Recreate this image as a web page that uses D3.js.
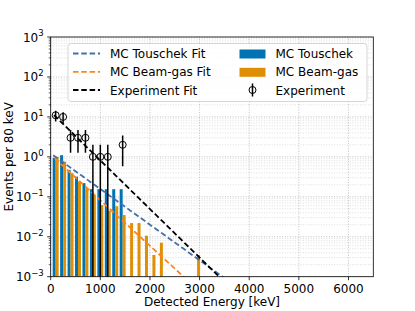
<!DOCTYPE html>
<html>
<head>
<meta charset="utf-8">
<script src="https://cdn.jsdelivr.net/npm/d3@7"></script>
<style>
  body { margin: 0; background: #fff; }
  text { font-family: "DejaVu Sans", sans-serif; fill: #000; }
</style>
</head>
<body>
<script>
// chart size
const width = 415, height = 311;
const margin = {left: 50.7, right: 41.7, top: 37, bottom: 34.3};

// histogram bins (keV, bin centres) and MC rates per bin
const binCenters = [100, 250, 400, 550, 700, 850, 1000, 1150, 1300, 1450,
                    1600, 1750, 1900, 2050, 2200, 2350, 2500, 2650, 2800, 2950];
const touschek = [0.95, 1.1, 0.47, 0.32, 0.22, 0.155, 0.155, 0.155, 0.155, 0.155,
                  0, 0, 0, 0, 0, 0, 0, 0, 0, 0];
const beamgas = [1.0, 0.76, 0.39, 0.24, 0.16, 0.11, 0.062, 0.045, 0.058, 0.035,
                 0.022, 0.022, 0.0106, 0.0035, 0.0071, 0, 0, 0, 0, 0.0035];

// measured events
const expEnergy = [100, 250, 400, 550, 700, 850, 1000, 1150, 1450];
const expCounts = [11, 10, 3, 3, 3, 1, 1, 1, 2];

// exponential fits: A * exp(-E / lambda), drawn from eStart on
const fitNames = ["MC Touschek Fit", "MC Beam-gas Fit", "Experiment Fit"];
const fitAmp = [1.22, 1.13, 13.4];
const fitLambda = [487, 381, 357];
const fitStart = [50, 80, 66];

const xTicks = [0, 1000, 2000, 3000, 4000, 5000, 6000];
const yExponents = [-3, -2, -1, 0, 1, 2, 3];

const blue = "#0173b2", orange = "#de8f05";
const fitColors = ["#4670a6", "#ff8419", "#000"];
const fs = 12;

const svg = d3.select("body").append("svg")
  .attr("width", width).attr("height", height);

const x = d3.scaleLinear().domain([0, 6500])
  .range([margin.left, width - margin.right]);
const y = d3.scaleLog().domain([1e-3, 1e3])
  .range([height - margin.bottom, margin.top]);

const x0 = x.range()[0], x1 = x.range()[1];
const y0 = y.range()[0], y1 = y.range()[1];

svg.append("clipPath").attr("id", "plot")
  .append("rect").attr("x", x0).attr("y", y1)
  .attr("width", x1 - x0).attr("height", y0 - y1);

// grid
const minorVals = [];
yExponents.slice(0, -1).forEach(e => {
  for (let m = 2; m < 10; m++) minorVals.push(m * Math.pow(10, e));
});
const grid = svg.append("g");
grid.selectAll(".ymin").data(minorVals).enter().append("line")
  .attr("x1", x0).attr("x2", x1)
  .attr("y1", d => y(d)).attr("y2", d => y(d))
  .attr("stroke", "#d4d4d4").attr("stroke-width", 0.8)
  .attr("stroke-dasharray", "1,1.6");
grid.selectAll(".ymaj").data(yExponents.map(e => Math.pow(10, e))).enter().append("line")
  .attr("x1", x0).attr("x2", x1)
  .attr("y1", d => y(d)).attr("y2", d => y(d))
  .attr("stroke", "#b0b0b0").attr("stroke-width", 0.8)
  .attr("stroke-dasharray", "1,1.6");
grid.selectAll(".xmaj").data(xTicks).enter().append("line")
  .attr("x1", d => x(d)).attr("x2", d => x(d))
  .attr("y1", y0).attr("y2", y1)
  .attr("stroke", "#b0b0b0").attr("stroke-width", 0.8)
  .attr("stroke-dasharray", "1,1.6");

// bars
const plot = svg.append("g").attr("clip-path", "url(#plot)");
const halfBin = 60;
plot.selectAll(".tb").data(binCenters.map((c, i) => [c, touschek[i]]).filter(d => d[1] > 0))
  .enter().append("rect")
  .attr("x", d => x(d[0] - halfBin)).attr("width", d => x(d[0]) - x(d[0] - halfBin))
  .attr("y", d => y(d[1])).attr("height", d => y0 - y(d[1]))
  .attr("fill", blue);
plot.selectAll(".bb").data(binCenters.map((c, i) => [c, beamgas[i]]).filter(d => d[1] > 0))
  .enter().append("rect")
  .attr("x", d => x(d[0])).attr("width", d => x(d[0] + halfBin) - x(d[0]))
  .attr("y", d => y(d[1])).attr("height", d => y0 - y(d[1]))
  .attr("fill", orange);

// fit lines
const line = d3.line().x(d => x(d[0])).y(d => y(d[1]));
fitAmp.forEach((a, i) => {
  const pts = d3.range(fitStart[i], 6500, 50).map(e => [e, a * Math.exp(-e / fitLambda[i])]);
  plot.append("path").datum(pts)
    .attr("d", line).attr("fill", "none")
    .attr("stroke", fitColors[i]).attr("stroke-width", 1.8)
    .attr("stroke-dasharray", "5.5,2.8");
});

// experiment with sqrt(N) errors
const pts = plot.selectAll(".exp").data(expEnergy.map((e, i) => [e, expCounts[i]]))
  .enter().append("g");
pts.append("line")
  .attr("x1", d => x(d[0])).attr("x2", d => x(d[0]))
  .attr("y1", d => y(d[1] + Math.sqrt(d[1])))
  .attr("y2", d => { const lo = d[1] - Math.sqrt(d[1]); return lo > 1e-3 ? y(lo) : y0 + 5; })
  .attr("stroke", "#000").attr("stroke-width", 1.5);
pts.append("circle")
  .attr("cx", d => x(d[0])).attr("cy", d => y(d[1])).attr("r", 3.5)
  .attr("fill", "none").attr("stroke", "#000").attr("stroke-width", 1);

// spines
svg.append("rect").attr("x", x0).attr("y", y1)
  .attr("width", x1 - x0).attr("height", y0 - y1)
  .attr("fill", "none").attr("stroke", "#000").attr("stroke-width", 0.8);

// x axis
const xa = svg.append("g");
xa.selectAll("line").data(xTicks).enter().append("line")
  .attr("x1", d => x(d)).attr("x2", d => x(d))
  .attr("y1", y0).attr("y2", y0 + 3.5)
  .attr("stroke", "#000").attr("stroke-width", 0.8);
xa.selectAll("text").data(xTicks).enter().append("text")
  .attr("x", d => x(d)).attr("y", y0 + 16.5)
  .attr("text-anchor", "middle").attr("font-size", fs)
  .text(d => d);

// y axis
const ya = svg.append("g");
ya.selectAll(".mt").data(minorVals).enter().append("line")
  .attr("x1", x0 - 2).attr("x2", x0)
  .attr("y1", d => y(d)).attr("y2", d => y(d))
  .attr("stroke", "#000").attr("stroke-width", 0.6);
ya.selectAll(".Mt").data(yExponents).enter().append("line")
  .attr("x1", x0 - 3.5).attr("x2", x0)
  .attr("y1", d => y(Math.pow(10, d))).attr("y2", d => y(Math.pow(10, d)))
  .attr("stroke", "#000").attr("stroke-width", 0.8);
const yl = ya.selectAll(".yl").data(yExponents).enter().append("text")
  .attr("x", x0 - 7).attr("y", d => y(Math.pow(10, d)) + 4.5)
  .attr("text-anchor", "end").attr("font-size", fs);
yl.append("tspan").text("10");
yl.append("tspan").attr("dy", -5.5).attr("font-size", 8.5)
  .text(d => d < 0 ? "\u2212" + (-d) : d);

// axis labels
svg.append("text").attr("x", (x0 + x1) / 2).attr("y", height - 5)
  .attr("text-anchor", "middle").attr("font-size", fs)
  .text("Detected Energy [keV]");
svg.append("text")
  .attr("transform", `translate(13,${(y0 + y1) / 2}) rotate(-90)`)
  .attr("text-anchor", "middle").attr("font-size", fs)
  .text("Events per 80 keV");

// legend
const lg = svg.append("g");
lg.append("rect").attr("x", 68).attr("y", 43.5).attr("width", 299).attr("height", 58)
  .attr("rx", 3).attr("fill", "#fff").attr("fill-opacity", 0.8)
  .attr("stroke", "#cccccc").attr("stroke-width", 0.8);
const rowY = [53.5, 71.8, 90];
fitNames.forEach((n, i) => {
  lg.append("line").attr("x1", 73).attr("x2", 100)
    .attr("y1", rowY[i]).attr("y2", rowY[i])
    .attr("stroke", fitColors[i]).attr("stroke-width", 1.8)
    .attr("stroke-dasharray", "5.5,2.8");
  lg.append("text").attr("x", 110).attr("y", rowY[i] + 4.5)
    .attr("font-size", fs).text(n);
});
const barNames = ["MC Touschek", "MC Beam-gas"];
[blue, orange].forEach((c, i) => {
  lg.append("rect").attr("x", 239.5).attr("y", rowY[i] - 4).attr("width", 26).attr("height", 9)
    .attr("fill", c);
  lg.append("text").attr("x", 275.5).attr("y", rowY[i] + 4.5)
    .attr("font-size", fs).text(barNames[i]);
});
lg.append("line").attr("x1", 252.5).attr("x2", 252.5)
  .attr("y1", rowY[2] - 6.5).attr("y2", rowY[2] + 6.5)
  .attr("stroke", "#000").attr("stroke-width", 1.5);
lg.append("circle").attr("cx", 252.5).attr("cy", rowY[2]).attr("r", 3.5)
  .attr("fill", "none").attr("stroke", "#000").attr("stroke-width", 1);
lg.append("text").attr("x", 275.5).attr("y", rowY[2] + 4.5)
  .attr("font-size", fs).text("Experiment");
</script>
</body>
</html>
